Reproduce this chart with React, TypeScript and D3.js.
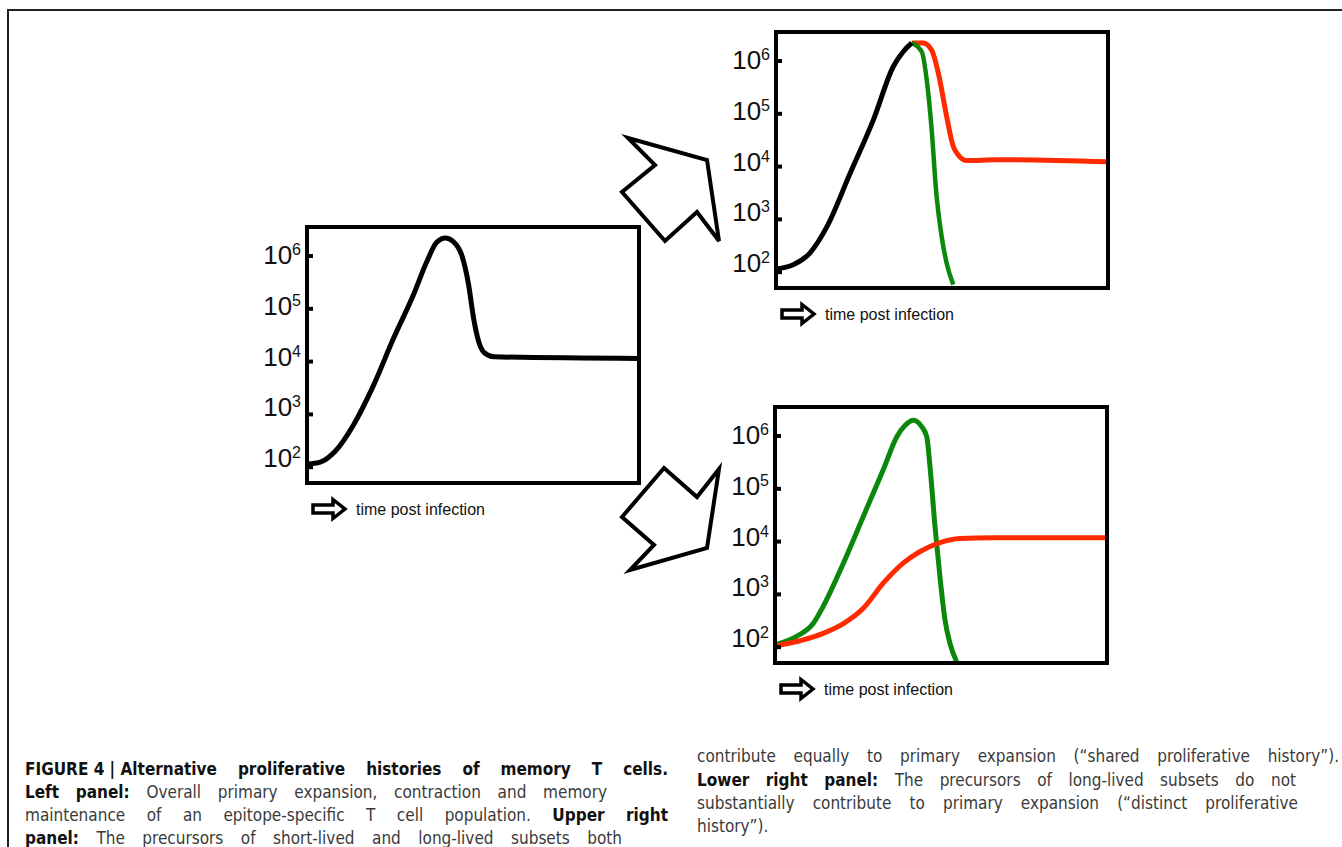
import { useEffect, useRef } from 'react';
import * as d3 from 'd3';

// time axis is arbitrary ("time post infection"), cells on a log axis
const timeDomain = [0, 100];
const countDomain = [Math.pow(10, 1.7), Math.pow(10, 6.55)];
const countTicks = [1e2, 1e3, 1e4, 1e5, 1e6];
const tickExponents = ['2', '3', '4', '5', '6'];

// left panel: whole epitope-specific population
const totalDays = [0, 4, 8.5, 14, 20, 26, 32, 36, 39, 41.7, 44, 46.7, 48.7, 50.2, 51.8, 53.3, 56.3, 100];
const totalCells = [115, 125, 200, 630, 3500, 27000, 1.8e5, 7.6e5, 1.8e6, 2.2e6, 1.9e6, 1e6, 2.8e5, 6.5e4, 2.3e4, 1.5e4, 1.23e4, 1.15e4];

// upper right: shared proliferative history
const sharedDays = [0, 5.2, 10.2, 15.3, 22.3, 29.3, 35.3, 38.3, 40.9];
const sharedCells = [115, 138, 230, 720, 7400, 7.6e4, 7.8e5, 1.5e6, 2.2e6];
const sharedShortDays = [40.9, 43.9, 45.4, 46.9, 48.2, 49.9, 51.4, 53.4];
const sharedShortCells = [2.2e6, 1.5e6, 4.4e5, 4.9e4, 3600, 470, 148, 58];
const sharedLongDays = [40.9, 44.4, 46.9, 48.9, 51.4, 53.4, 54.9, 57.4, 66.5, 100];
const sharedLongCells = [2.2e6, 2.2e6, 1.6e6, 5.9e5, 8.9e4, 2.4e4, 1.66e4, 1.3e4, 1.35e4, 1.23e4];

// lower right: distinct proliferative history
const distinctShortDays = [0, 6.5, 11.5, 14.5, 20.6, 26.6, 32.6, 36.7, 39.2, 41.7, 44.2, 45.7, 46.7, 48.2, 49.7, 51.2, 52.7, 54.7];
const distinctShortCells = [110, 160, 280, 590, 3900, 3e4, 2.3e5, 9.7e5, 1.6e6, 2.0e6, 1.5e6, 9.7e5, 2.6e5, 1.9e4, 2100, 330, 118, 53];
const distinctLongDays = [0, 8.5, 14.5, 20.6, 26.6, 32.6, 38.6, 43.7, 49.7, 55.7, 65.7, 100];
const distinctLongCells = [105, 137, 183, 280, 545, 1630, 3900, 6500, 9600, 1.15e4, 1.18e4, 1.18e4];

const BLACK = '#000';
const GREEN = '#0b870b';
const RED = '#ff2a00';

const PW = 332;
const PH = 256;
const labelFont = '"Liberation Sans", Arial, Helvetica, sans-serif';
const captionFont = '"Liberation Sans Narrow", "DejaVu Sans Condensed", "Liberation Sans", sans-serif';

const panels = [
  { id: 'left', x: 307, y: 227, series: [{ days: totalDays, cells: totalCells, color: BLACK, width: 5 }] },
  {
    id: 'shared', x: 776, y: 32, series: [
      { days: sharedLongDays, cells: sharedLongCells, color: RED, width: 5 },
      { days: sharedShortDays, cells: sharedShortCells, color: GREEN, width: 4.5 },
      { days: sharedDays, cells: sharedCells, color: BLACK, width: 5 },
    ],
  },
  {
    id: 'distinct', x: 775, y: 407, series: [
      { days: distinctShortDays, cells: distinctShortCells, color: GREEN, width: 5 },
      { days: distinctLongDays, cells: distinctLongCells, color: RED, width: 5 },
    ],
  },
];

// big hollow arrows between panels (shapes, not data)
const arrowUp = [[628, 138], [707, 160], [719, 241], [697, 212], [665, 241], [622, 192], [655, 165]];
const arrowDown = [[664, 468], [697, 497], [719, 469], [707, 548], [630, 570], [654, 545], [622, 517]];

const captionLines = [
  { x: 25, y: 775, end: 668, parts: [['FIGURE\u00a04\u00a0|\u00a0Alternative proliferative histories of memory T cells.', true]] },
  { x: 25, y: 798, end: 607, parts: [['Left panel:', true], ['Overall primary expansion, contraction and memory', false]] },
  { x: 25, y: 821, end: 668, parts: [['maintenance of an epitope-specific T cell population.', false], ['Upper right', true]] },
  { x: 25, y: 844, end: 622, parts: [['panel:', true], ['The precursors of short-lived and long-lived subsets both', false]] },
  { x: 697, y: 762, end: 1339, parts: [['contribute equally to primary expansion (\u201cshared proliferative history\u201d).', false]] },
  { x: 697, y: 786, end: 1296, parts: [['Lower right panel:', true], ['The precursors of long-lived subsets do not', false]] },
  { x: 697, y: 809, end: 1298, parts: [['substantially contribute to primary expansion (\u201cdistinct proliferative', false]] },
  { x: 697, y: 832, end: 0, parts: [['history\u201d).', false]] },
];

function Panel({ id, x, y, series }) {
  const xs = d3.scaleLinear().domain(timeDomain).range([0, PW]);
  const ys = d3.scaleLog().domain(countDomain).range([PH, 0]);
  const line = d3.line<[number, number]>()
    .x(d => xs(d[0]))
    .y(d => ys(d[1]))
    .curve(d3.curveMonotoneX);

  return (
    <g transform={`translate(${x},${y})`}>
      <clipPath id={`clip-${id}`}>
        <rect x={0} y={0} width={PW} height={PH} />
      </clipPath>
      <g clipPath={`url(#clip-${id})`}>
        {series.map((s, i) => (
          <path key={i} d={line(d3.zip(s.days, s.cells) as [number, number][]) || ''}
            fill="none" stroke={s.color} strokeWidth={s.width} strokeLinejoin="round" />
        ))}
      </g>
      {countTicks.map((t, i) => {
        const ty = ys(t);
        const e = +tickExponents[i];
        const ly = ty + 8 - (6 - e) * 2;
        return (
          <g key={t}>
            <line x1={0} x2={6} y1={ty} y2={ty} stroke="#000" strokeWidth={4} />
            <text x={-6} y={ly} textAnchor="end" fontFamily={labelFont} fontSize={26} fill="#111">
              10<tspan fontSize={16} dy={-9}>{tickExponents[i]}</tspan>
            </text>
          </g>
        );
      })}
      <rect x={0} y={0} width={PW} height={PH} fill="none" stroke="#000" strokeWidth={4} />
      <g transform={`translate(${6},${PH + 26})`}>
        <path d="M0,-4 L20,-4 L20,-9.5 L32,0 L20,9.5 L20,4 L0,4 Z" fill="#fff" stroke="#000"
          strokeWidth={3.5} />
      </g>
      <text x={49} y={PH + 32} fontFamily={labelFont} fontSize={16} fill="#111">time post infection</text>
    </g>
  );
}

export default function App() {
  const captionRef = useRef<SVGGElement>(null);

  useEffect(() => {
    if (!captionRef.current) return;
    const g = d3.select(captionRef.current);
    g.selectAll('*').remove();

    captionLines.forEach(ln => {
      const words = ln.parts.flatMap(([t, b]) =>
        (t as string).split(' ').filter(Boolean).map(w => ({ w, b: b as boolean })));
      const nodes = words.map(d => g.append('text')
        .attr('y', ln.y)
        .attr('font-family', captionFont)
        .attr('font-size', 17)
        .attr('font-weight', d.b ? 700 : 400)
        .attr('fill', d.b ? '#111' : '#3a3a3a')
        .text(d.w));
      const widths = nodes.map(n => (n.node() as SVGTextElement).getComputedTextLength());
      const total = d3.sum(widths);
      const gap = ln.end && words.length > 1 ? (ln.end - ln.x - total) / (words.length - 1) : 4;
      let cx = ln.x;
      nodes.forEach((n, i) => {
        n.attr('x', cx);
        cx += widths[i] + gap;
      });
    });
  }, []);

  const poly = (pts: number[][]) => pts.map(p => p.join(',')).join(' ');

  return (
    <svg width={1342} height={847} style={{ position: 'absolute', left: 0, top: 0, display: 'block', background: '#fff' }}>
      <rect x={0} y={0} width={1342} height={847} fill="#fff" />
      <path d="M8,847 L8,10 L1342,10" fill="none" stroke="#222" strokeWidth={2} />
      {panels.map(p => <Panel key={p.id} {...p} />)}
      <polygon points={poly(arrowUp)} fill="#fff" stroke="#000" strokeWidth={4} strokeLinejoin="miter" />
      <polygon points={poly(arrowDown)} fill="#fff" stroke="#000" strokeWidth={4} strokeLinejoin="miter" />
      <g ref={captionRef} />
    </svg>
  );
}
